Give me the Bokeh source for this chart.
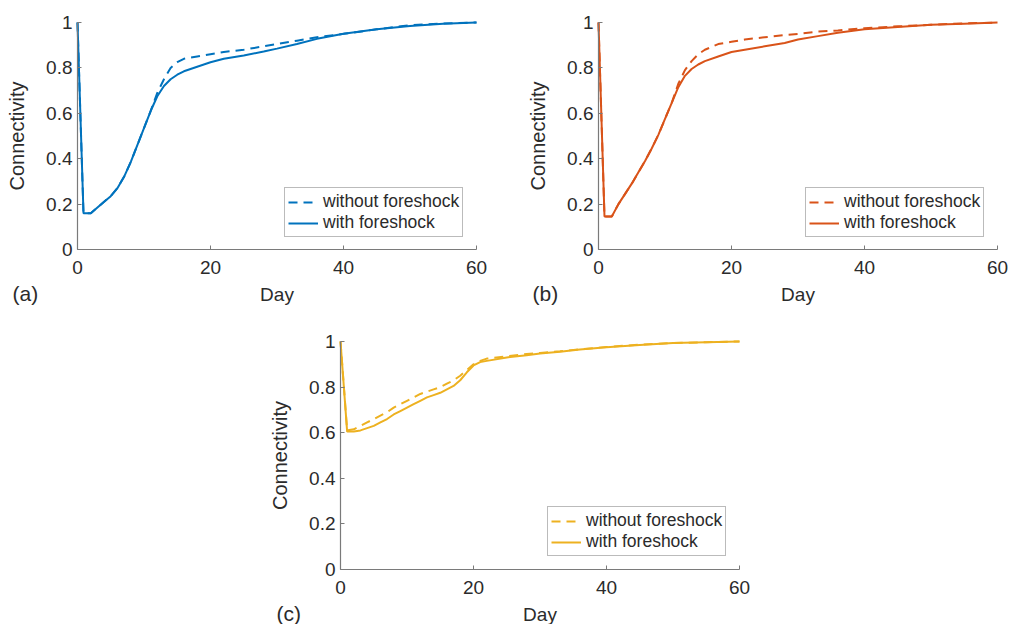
from bokeh.plotting import figure
from bokeh.models import Range1d, FixedTicker, Label, Spacer
from bokeh.layouts import column, row
from bokeh.embed import file_html
from bokeh.resources import INLINE

# ---------------- data ----------------
days_ab = [0, 0.9, 2, 3, 4, 5, 6, 7, 8, 9, 10, 11, 12, 13, 14, 15, 16, 18, 20,
           22, 25, 28, 30, 33, 36, 40, 45, 50, 55, 60]

a_without = [1.0, 0.16, 0.16, 0.185, 0.21, 0.235, 0.27, 0.32, 0.385, 0.46, 0.535,
             0.61, 0.69, 0.75, 0.80, 0.825, 0.84, 0.85, 0.86, 0.87, 0.88, 0.895,
             0.905, 0.92, 0.935, 0.95, 0.97, 0.988, 0.996, 1.0]
a_with = [1.0, 0.16, 0.16, 0.185, 0.21, 0.235, 0.27, 0.32, 0.385, 0.46, 0.535,
          0.61, 0.675, 0.72, 0.75, 0.77, 0.785, 0.805, 0.825, 0.84, 0.855, 0.872,
          0.885, 0.905, 0.928, 0.95, 0.97, 0.985, 0.995, 1.0]

b_without = [1.0, 0.145, 0.145, 0.20, 0.245, 0.29, 0.34, 0.39, 0.445, 0.505, 0.575,
             0.645, 0.73, 0.79, 0.83, 0.86, 0.88, 0.905, 0.915, 0.925, 0.935, 0.945,
             0.95, 0.96, 0.965, 0.975, 0.983, 0.99, 0.996, 1.0]
b_with = [1.0, 0.145, 0.145, 0.20, 0.245, 0.29, 0.34, 0.39, 0.445, 0.505, 0.575,
          0.645, 0.715, 0.765, 0.795, 0.815, 0.83, 0.85, 0.87, 0.88, 0.895, 0.91,
          0.925, 0.94, 0.955, 0.97, 0.98, 0.99, 0.995, 1.0]

days_c = [0, 1, 2, 3, 4, 5, 6, 7, 8, 9, 10, 11, 12, 13, 14, 15, 16, 17, 18, 19,
          20, 21, 22, 25, 28, 30, 33, 36, 40, 45, 50, 55, 60]
c_without = [1.0, 0.61, 0.615, 0.63, 0.645, 0.66, 0.675, 0.69, 0.71, 0.725, 0.74,
             0.755, 0.77, 0.78, 0.79, 0.80, 0.815, 0.83, 0.85, 0.875, 0.90, 0.915,
             0.925, 0.935, 0.945, 0.95, 0.957, 0.966, 0.976, 0.986, 0.993, 0.997, 1.0]
c_with = [1.0, 0.605, 0.605, 0.61, 0.62, 0.63, 0.645, 0.66, 0.68, 0.695, 0.71,
          0.725, 0.74, 0.755, 0.765, 0.775, 0.79, 0.805, 0.83, 0.865, 0.895, 0.91,
          0.915, 0.93, 0.94, 0.947, 0.955, 0.965, 0.975, 0.985, 0.993, 0.997, 1.0]

x_ticks = [0, 20, 40, 60]
y_ticks = [0, 0.2, 0.4, 0.6, 0.8, 1]
y_tick_labels = ["0", "0.2", "0.4", "0.6", "0.8", "1"]
legend_labels = ["without foreshock", "with foreshock"]
panel_tags = ["(a)", "(b)", "(c)"]
colors = ["#0072BD", "#D95319", "#EDB120"]

FONT = "Liberation Sans"
AXIS_COLOR = "#7a7a7a"
TEXT_COLOR = "#2b2b2b"
X_MAX = 60.0
Y_MAX = 1.0


def make_panel(days, without, with_, color, tag, W, H, L, R, T, B,
               legend_left, legend_bottom, tag_left, tag_mid):
    """W,H: canvas size; L,R,T,B: pixel box of the data area (0..60 x 0..1)
    inside the canvas.  The frame covers the whole canvas, axes are pinned."""
    sx = (R - L) / X_MAX
    sy = (B - T) / Y_MAX
    xr = Range1d(-L / sx, (W - L) / sx)
    yr = Range1d(-(H - B) / sy, Y_MAX + T / sy)
    p = figure(width=W, height=H, output_backend="svg", toolbar_location=None,
               x_range=xr, y_range=yr, min_border=0,
               min_border_left=0, min_border_right=0, min_border_top=0,
               min_border_bottom=0)
    p.outline_line_color = None
    p.grid.visible = False

    p.line(days, without, line_color=color, line_width=2, line_dash="9 6",
           legend_label=legend_labels[0])
    p.line(days, with_, line_color=color, line_width=2,
           legend_label=legend_labels[1])

    for ax in (p.xaxis[0], p.yaxis[0]):
        ax.fixed_location = 0
        ax.axis_line_color = AXIS_COLOR
        ax.axis_line_width = 1.2
        ax.major_tick_line_color = AXIS_COLOR
        ax.major_tick_in = 4
        ax.major_tick_out = 0
        ax.minor_tick_line_color = None
        ax.major_label_text_font = FONT
        ax.major_label_text_font_size = "19px"
        ax.major_label_text_color = TEXT_COLOR
        ax.axis_label_text_font = FONT
        ax.axis_label_text_font_style = "normal"
        ax.axis_label_text_color = TEXT_COLOR

    p.xaxis.bounds = (0, X_MAX)
    p.yaxis.bounds = (0, Y_MAX)
    p.xaxis.ticker = FixedTicker(ticks=x_ticks)
    p.yaxis.ticker = FixedTicker(ticks=y_ticks)
    p.yaxis.major_label_overrides = {t: s for t, s in zip(y_ticks, y_tick_labels)}
    p.xaxis.major_label_standoff = 11
    p.yaxis.major_label_standoff = 5
    p.xaxis.axis_label = "Day"
    p.yaxis.axis_label = "Connectivity"
    p.xaxis.axis_label_text_font_size = "19px"
    p.yaxis.axis_label_text_font_size = "20px"
    p.xaxis.axis_label_standoff = 7
    p.yaxis.axis_label_standoff = 15

    lg = p.legend[0]
    lg.location = (legend_left, H - legend_bottom)
    lg.margin = 0
    lg.padding = 3
    lg.spacing = 0
    lg.glyph_width = 30
    lg.glyph_height = 18
    lg.label_height = 18
    lg.label_standoff = 5
    lg.label_text_font = FONT
    lg.label_text_font_size = "17.5px"
    lg.label_text_color = TEXT_COLOR
    lg.border_line_color = "#777777"
    lg.border_line_width = 1
    lg.background_fill_alpha = 1

    p.add_layout(Label(x=(tag_left - L) / sx, y=(B - tag_mid) / sy, text=tag,
                       text_font=FONT, text_font_size="21px",
                       text_color=TEXT_COLOR, text_baseline="middle",
                       text_align="left"))
    return p


#                 canvas      data box (L, R, T, B)   legend (left, bottom)  tag
pa = make_panel(days_ab, a_without, a_with, colors[0], panel_tags[0],
                508, 310, 77, 476, 22, 249, 284, 237, 12, 293)
pb = make_panel(days_ab, b_without, b_with, colors[1], panel_tags[1],
                502, 310, 90, 489, 22, 249, 297, 237, 24, 293)
pc = make_panel(days_c, c_without, c_with, colors[2], panel_tags[2],
                500, 314, 80, 479, 31, 259, 287, 246, 16, 303)

layout = column(row(pa, pb), row(Spacer(width=260, height=314), pc))

open("out.html", "w").write(file_html(layout, INLINE))
